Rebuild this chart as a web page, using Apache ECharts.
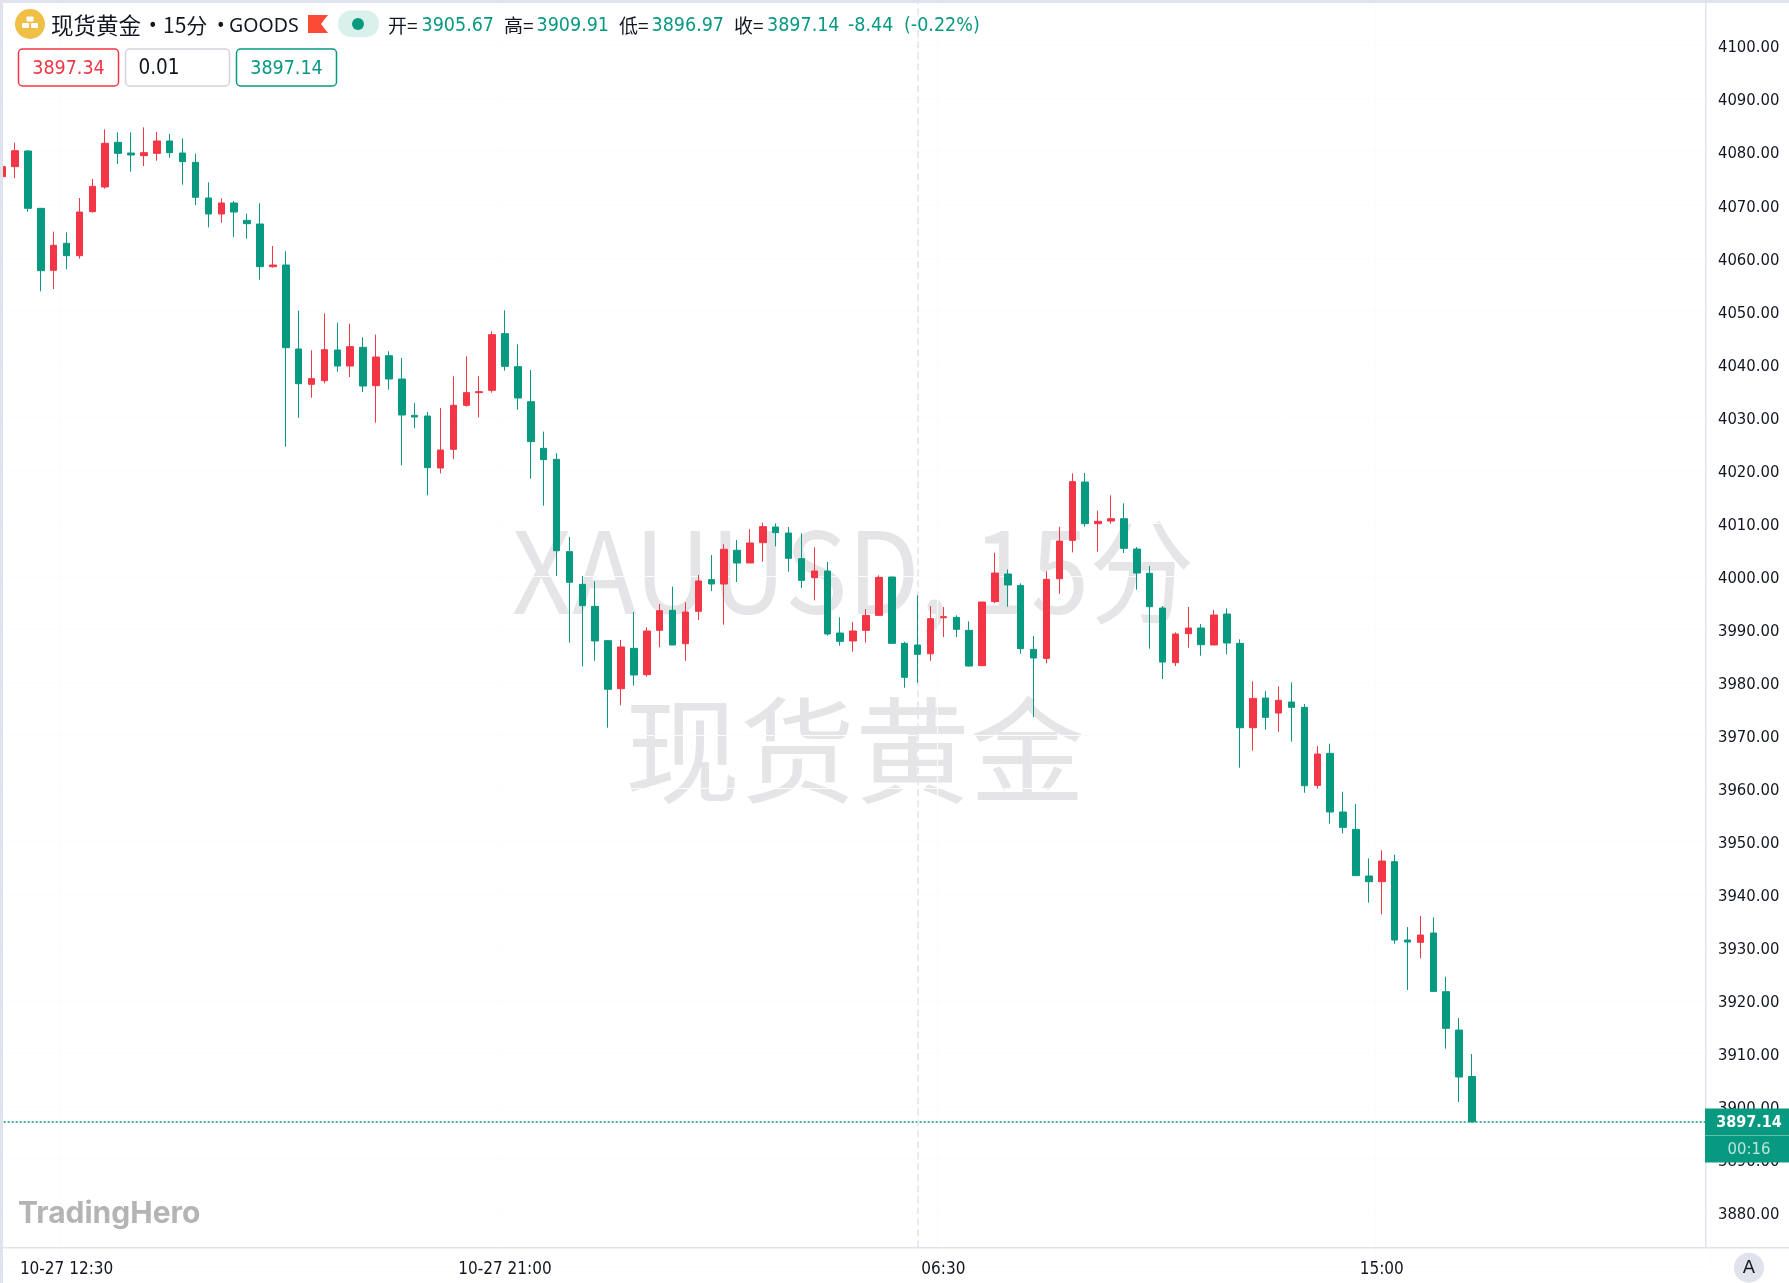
<!DOCTYPE html>
<html>
<head>
<meta charset="utf-8">
<script src="https://cdn.jsdelivr.net/npm/echarts@6/dist/echarts.min.js"></script>
<style>html,body{margin:0;padding:0;background:#fff;overflow:hidden}#c{width:1789px;height:1283px}</style>
</head>
<body>
<div id="c"></div>
<script>
const opens=[4075.29,4077.18,4080.13,4069.32,4057.64,4062.73,4060.40,4068.70,4073.35,4081.77,4079.75,4079.25,4079.69,4082.02,4079.75,4077.99,4071.27,4068.26,4070.33,4067.06,4066.37,4058.33,4058.64,4042.81,4036.15,4036.84,4042.62,4039.60,4043.12,4035.90,4041.55,4037.15,4030.30,4030.18,4020.38,4023.90,4032.19,4034.58,4035.02,4045.70,4039.48,4032.88,4024.08,4022.01,4004.61,3998.45,3994.30,3987.83,3978.78,3986.38,3981.42,3989.78,3993.55,3987.26,3993.36,3999.33,3998.51,4004.86,4002.47,4006.30,4009.26,4008.12,4003.29,3999.70,4000.96,3989.27,3987.77,3989.77,3992.60,3999.83,3987.32,3987.01,3985.37,3992.16,3992.22,3989.77,3983.11,3995.18,4000.39,3998.25,3986.19,3984.49,3999.51,4006.74,4017.73,4009.88,4010.38,4010.82,4005.10,4000.52,3993.98,3983.68,3989.14,3990.21,3987.01,3992.85,3987.32,3971.42,3977.02,3974.19,3976.26,3975.26,3960.55,3966.59,3955.53,3952.26,3943.46,3942.40,3946.17,3931.40,3930.96,3932.72,3921.66,3914.43,3905.67];
const closes=[4077.18,4080.19,4069.32,4057.57,4062.35,4060.40,4068.63,4073.47,4081.58,4079.69,4079.38,4079.82,4082.02,4079.82,4078.12,4071.40,4068.26,4070.33,4068.63,4066.43,4058.33,4058.64,4043.06,4036.27,4037.22,4042.68,4039.60,4043.25,4035.83,4041.30,4037.15,4030.37,4029.99,4020.44,4023.77,4032.19,4034.58,4034.77,4045.51,4039.54,4033.57,4025.34,4021.95,4004.79,3998.83,3994.43,3987.77,3978.66,3986.64,3981.36,3989.65,3993.48,3987.01,3993.23,3999.08,3998.51,4005.05,4002.47,4006.24,4009.32,4008.19,4003.35,3999.20,4000.96,3989.09,3987.70,3989.65,3992.60,3999.76,3987.32,3980.91,3985.25,3991.97,3992.35,3989.96,3983.05,3995.11,4000.58,3998.32,3986.32,3984.56,3999.39,4006.61,4017.80,4009.88,4010.32,4010.82,4005.23,4000.58,3994.23,3983.80,3989.08,3990.21,3987.07,3992.66,3987.38,3971.42,3976.95,3973.37,3976.58,3975.26,3960.49,3966.46,3955.53,3952.64,3943.53,3942.40,3946.29,3931.40,3931.02,3932.34,3921.72,3914.75,3905.58,3897.14];
const lows=[4075.29,4075.04,4068.70,4053.68,4054.12,4057.83,4059.84,4068.51,4073.03,4077.68,4076.24,4077.30,4078.31,4078.87,4073.79,4069.95,4065.74,4066.62,4063.92,4063.61,4055.88,4058.14,4024.40,4029.86,4033.63,4036.34,4038.54,4037.53,4034.70,4028.92,4035.14,4020.88,4027.85,4015.22,4019.37,4022.07,4031.94,4029.93,4034.58,4038.72,4031.37,4018.37,4013.28,4000.02,3987.45,3982.99,3984.06,3971.43,3975.64,3979.35,3981.04,3986.57,3987.01,3984.06,3991.72,3997.19,3990.85,3998.89,4002.47,4002.72,4005.61,4000.84,3997.76,3995.43,3988.77,3986.89,3985.76,3987.45,3992.60,3987.32,3978.96,3979.91,3984.05,3988.52,3988.52,3982.99,3983.05,3994.92,3994.23,3985.37,3973.43,3983.55,3996.68,4004.47,4009.31,4004.60,4009.88,4004.35,3997.44,3986.32,3980.60,3983.05,3986.50,3985.00,3987.01,3985.25,3963.88,3967.09,3971.05,3970.67,3968.79,3959.17,3959.93,3953.33,3951.51,3943.53,3938.44,3936.24,3930.71,3921.97,3927.94,3921.72,3910.92,3900.86,3896.97];
const highs=[4077.18,4081.70,4080.32,4069.32,4064.93,4064.80,4071.27,4074.85,4084.22,4083.65,4083.65,4084.59,4083.71,4083.34,4082.52,4079.63,4074.22,4071.21,4070.71,4068.32,4070.27,4062.22,4061.22,4050.03,4042.56,4049.53,4047.77,4047.58,4045.01,4045.51,4042.37,4041.11,4032.63,4030.93,4031.69,4037.66,4041.43,4037.72,4046.14,4050.10,4043.69,4038.85,4027.23,4023.14,4007.37,4000.02,3999.01,3987.89,3987.95,3993.23,3990.34,3994.74,3998.01,3995.06,4000.21,4003.98,4005.99,4006.80,4008.82,4010.07,4009.95,4009.26,4008.06,4005.42,4002.66,3992.23,3991.35,3993.79,4000.14,3999.89,3987.64,3996.37,3994.36,3994.17,3992.60,3991.47,3995.11,4004.41,4001.27,3998.63,3988.70,4000.89,4009.31,4019.37,4019.43,4012.33,4015.22,4013.71,4005.48,4001.90,3994.36,3989.39,3994.17,3990.97,3993.60,3993.92,3988.08,3980.16,3978.34,3979.22,3979.97,3975.89,3967.97,3968.41,3959.36,3957.04,3946.79,3948.30,3947.48,3933.85,3935.92,3935.67,3924.49,3916.70,3909.91];

const tickIndexes=[5,39,73,107];
const tickLabels=['10-27 12:30','10-27 21:00','06:30','15:00'];
const emptySlots=18;
const sessionBreakIndex=71;
const lastPrice=3897.14;
const askPrice='3897.34', spreadText='0.01', bidPrice='3897.14', countdown='00:16';
const titleName='现货黄金', titleFrame='15分', titleSource='GOODS';
const ohlcLabels=['开=','高=','低=','收='];
const ohlcValues=['3905.67','3909.91','3896.97','3897.14'];
const changeText='-8.44', changePct='(-0.22%)';
const watermarkLines=['XAUUSD, 15分','现货黄金'];
const brandName='TradingHero';

const UP='#f23645', DOWN='#089981', INK='#131722', RULE='#e0e3eb';
const NUM="'DejaVu Sans Condensed','DejaVu Sans',sans-serif";
const CJK="'Noto Sans CJK SC',sans-serif";

const candleData=opens.map((o,i)=>[o,closes[i],lows[i],highs[i]]);
const categories=Array.from({length:opens.length+emptySlots},(_,i)=>{
  const at=tickIndexes.indexOf(i);return at>=0?tickLabels[at]:'c'+i;});

function text(str,x,y,font,fill,align){
  return {type:'text',z:60,silent:true,style:{text:str,x:x,y:y,font:font,fill:fill,textAlign:align||'left',textVerticalAlign:'middle'}};
}
function box(x,y,w,h,stroke,fill,lw,r){
  return {type:'rect',z:55,silent:true,shape:{x:x,y:y,width:w,height:h,r:r||0},style:{fill:fill,stroke:stroke,lineWidth:lw||0}};
}
const graphics=[
  // watermark
  {type:'text',z:0,silent:true,x:853,y:571,scaleX:0.93,style:{text:watermarkLines[0],x:0,y:0,font:"113px 'Noto Sans CJK SC',sans-serif",fill:'#e5e5e8',textAlign:'center',textVerticalAlign:'middle'}},
  {type:'text',z:0,silent:true,style:{text:watermarkLines[1],x:855,y:750,font:"115px 'Noto Sans CJK SC',sans-serif",fill:'#e5e5e8',textAlign:'center',textVerticalAlign:'middle'}},
  // frame
  box(0,0,1789,3,null,RULE),
  box(0,0,3,1283,null,RULE),
  box(1705,3,1.5,1245,null,RULE),
  box(3,1247,1786,1.5,null,RULE),
  // symbol icon
  {type:'circle',z:55,silent:true,shape:{cx:30,cy:24,r:15},style:{fill:'#f0bf45'}},
  box(26.5,16.5,7,5,null,'#fff',0,1),
  box(22,23,7,5,null,'#fff',0,1),
  box(31,23,7,5,null,'#fff',0,1),
  text(titleName,51,25.5,"22.5px "+CJK,INK),
  text('•',148,26,"18px "+NUM,INK),
  text(titleFrame,163,25.5,"21px "+CJK,INK),
  text('•',216,26,"18px "+NUM,INK),
  text(titleSource,229,26,"19.5px 'Noto Sans',sans-serif",INK),
  {type:'polygon',z:55,silent:true,shape:{points:[[308,15],[328,15],[321,24],[328,33],[308,33]]},style:{fill:'#fb4a36'}},
  box(338,10.5,41,26.5,null,'#d9f0eb',0,13),
  {type:'circle',z:56,silent:true,shape:{cx:358,cy:24,r:6},style:{fill:DOWN}},
  // ohlc row
  text(ohlcLabels[0],388,26,"19px "+CJK,INK),
  text(ohlcValues[0],421.5,26,"19.5px "+NUM,DOWN),
  text(ohlcLabels[1],504,26,"19px "+CJK,INK),
  text(ohlcValues[1],536.5,26,"19.5px "+NUM,DOWN),
  text(ohlcLabels[2],619,26,"19px "+CJK,INK),
  text(ohlcValues[2],651.5,26,"19.5px "+NUM,DOWN),
  text(ohlcLabels[3],734,26,"19px "+CJK,INK),
  text(ohlcValues[3],767,26,"19.5px "+NUM,DOWN),
  text(changeText,848,26,"19.5px "+NUM,DOWN),
  text(changePct,904,26,"19.5px "+NUM,DOWN),
  // quote boxes
  box(18.5,49,100,37,UP,'#fff',1.5,4),
  text(askPrice,68.5,69,"19.5px "+NUM,UP,'center'),
  box(125.5,49,104,37,'#d1d4dc','#fff',1.5,4),
  text(spreadText,138.5,69,"20.5px "+NUM,INK),
  box(236.5,49,100,37,DOWN,'#fff',1.5,4),
  text(bidPrice,286.5,69,"19.5px "+NUM,DOWN,'center'),
  // last price tag
  box(1705,1108.5,84,54,null,DOWN),
  box(1705,1135,84,1,null,'#5fbdab'),
  text(String(lastPrice),1749,1123,"bold 16px "+NUM,'#fff','center'),
  text(countdown,1749,1150,"16.5px "+NUM,'#bfe5dc','center'),
  // auto scale button
  {type:'circle',z:55,silent:true,shape:{cx:1749,cy:1267.7,r:15},style:{fill:RULE}},
  text('A',1749,1268.5,"18px 'DejaVu Sans',sans-serif",INK,'center'),
  // brand
  text(brandName,18,1213.5,"bold 30px Inter,sans-serif",'#b4b4b4')
];

const chart=echarts.init(document.getElementById('c'),null,{renderer:'canvas'});
chart.setOption({
  animation:false,
  backgroundColor:'#fff',
  graphic:{elements:graphics},
  grid:{left:-4.35,top:-7.45,width:1714.9,height:1273.2,containLabel:false,outerBoundsMode:'none'},
  xAxis:{
    type:'category',data:categories,boundaryGap:true,offset:-18.05,
    axisLine:{show:false},axisTick:{show:false},
    axisLabel:{show:true,margin:13,interval:i=>tickIndexes.includes(i),hideOverlap:false,
      color:INK,fontSize:17,fontFamily:NUM},
    splitLine:{show:true,interval:i=>tickIndexes.includes(i),lineStyle:{color:'#fcfcfd',width:1}}
  },
  yAxis:{
    type:'value',position:'right',offset:-5.6,min:3870,max:4110,interval:10,scale:true,
    axisLine:{show:false},axisTick:{show:false},
    splitLine:{show:true,lineStyle:{color:'#fcfcfd',width:1}},
    axisLabel:{show:true,margin:13,color:INK,fontSize:16.5,fontFamily:NUM,
      showMinLabel:false,showMaxLabel:false,
      formatter:v=>'{p|'+v.toFixed(2)+'}',
      rich:{p:{padding:[5,0,0,0],color:INK,fontSize:16.5,fontFamily:NUM}}}
  },
  series:[{
    type:'candlestick',data:candleData,barWidth:7,clip:true,z:5,
    itemStyle:{color:UP,color0:DOWN,borderColor:UP,borderColor0:DOWN,borderWidth:1},
    markLine:{silent:true,symbol:'none',z:4,animation:false,label:{show:false},emphasis:{disabled:true},
      data:[
        {yAxis:lastPrice,lineStyle:{color:DOWN,type:[2,2],width:1.5}},
        [{xAxis:categories[sessionBreakIndex],yAxis:3873.5,lineStyle:{color:RULE,type:[7,4],width:1.5}},
         {xAxis:categories[sessionBreakIndex],yAxis:4108.5}]
      ]}
  }]
});
</script>
</body>
</html>
